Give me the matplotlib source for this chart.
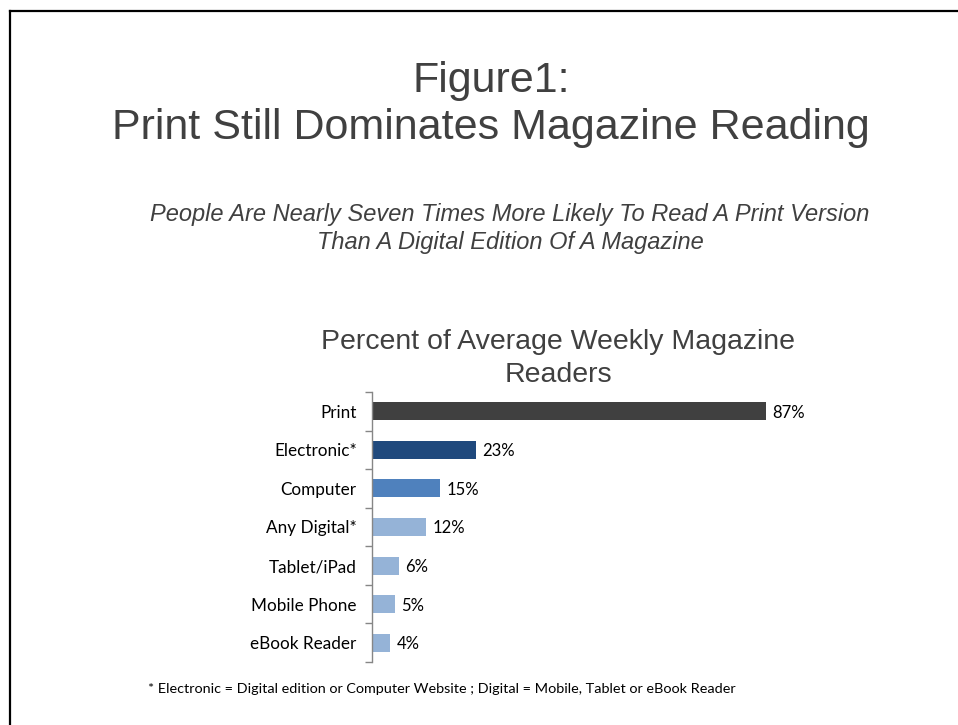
import matplotlib
matplotlib.use("Agg")
import matplotlib.pyplot as plt
from matplotlib.lines import Line2D

categories = ["Print", "Electronic*", "Computer", "Any Digital*", "Tablet/iPad",
              "Mobile Phone", "eBook Reader"]
values = [87, 23, 15, 12, 6, 5, 4]
bar_colors = ["#404040", "#1F497D", "#4F81BD", "#95B3D7", "#95B3D7", "#95B3D7", "#95B3D7"]

title_lines = ["Figure1:", "Print Still Dominates Magazine Reading"]
subtitle_lines = ["People Are Nearly Seven Times More Likely To Read A Print Version",
                  "Than A Digital Edition Of A Magazine"]
chart_title_lines = ["Percent of Average Weekly Magazine", "Readers"]
footnote = "* Electronic = Digital edition or Computer Website ; Digital = Mobile, Tablet or eBook Reader"

W, H = 958, 725
fig = plt.figure(figsize=(W / 100, H / 100), dpi=100)
fig.patch.set_facecolor("white")

head_font = ["Liberation Sans", "DejaVu Sans"]
body_font = ["Lato", "DejaVu Sans"]
grey = "#404040"

# slide frame (top and left edges)
fig.add_artist(Line2D([10 / W, 10 / W], [0, 1 - 11 / H], transform=fig.transFigure,
                      color="black", lw=1.6, solid_capstyle="projecting"))
fig.add_artist(Line2D([10 / W, 1], [1 - 11 / H, 1 - 11 / H], transform=fig.transFigure,
                      color="black", lw=1.6, solid_capstyle="projecting"))

# headline
fig.text(491 / W, 1 - 81 / H, title_lines[0], ha="center", va="center",
         fontsize=31, color=grey, family=head_font)
fig.text(491 / W, 1 - 128 / H, title_lines[1], ha="center", va="center",
         fontsize=31, color=grey, family=head_font)

# subtitle
fig.text(510 / W, 1 - 214 / H, subtitle_lines[0], ha="center", va="center",
         fontsize=17, color=grey, style="italic", family=head_font)
fig.text(510 / W, 1 - 243 / H, subtitle_lines[1], ha="center", va="center",
         fontsize=17, color=grey, style="italic", family=head_font)

# chart title
fig.text(558 / W, 1 - 342 / H, chart_title_lines[0], ha="center", va="center",
         fontsize=20.5, color=grey, family=head_font)
fig.text(558 / W, 1 - 375 / H, chart_title_lines[1], ha="center", va="center",
         fontsize=20.5, color=grey, family=head_font)

# bar chart
ax_left, ax_right = 372, 825
ax_top, ax_bottom = 392, 662
ax = fig.add_axes([ax_left / W, 1 - ax_bottom / H, (ax_right - ax_left) / W,
                   (ax_bottom - ax_top) / H])
n = len(categories)
ypos = list(range(n))
ax.barh(ypos, values, height=0.47, color=bar_colors, zorder=2)
ax.set_xlim(0, 100)
ax.set_ylim(n - 0.5, -0.5)

for y, v in zip(ypos, values):
    ax.annotate(f"{v}%", xy=(v, y), xytext=(4.5, -1), textcoords="offset points",
                ha="left", va="center", fontsize=12, color="black", family=body_font)

ax.set_yticks(ypos)
ax.set_yticklabels(categories, fontsize=12.3, family=body_font, color="black")
ax.set_yticks([i - 0.5 for i in range(n + 1)], minor=True)
ax.tick_params(axis="y", which="major", length=0, pad=11)
ax.tick_params(axis="y", which="minor", length=5, width=1, color="#868686", direction="out")
ax.set_xticks([])
for side in ("top", "right", "bottom"):
    ax.spines[side].set_visible(False)
ax.spines["left"].set_color("#868686")
ax.spines["left"].set_linewidth(1)
ax.set_facecolor("none")

# footnote
fig.text(148 / W, 1 - 689 / H, footnote, ha="left", va="center",
         fontsize=10.4, color="black", family=body_font)

fig.savefig("out.png", dpi=100, facecolor="white")
